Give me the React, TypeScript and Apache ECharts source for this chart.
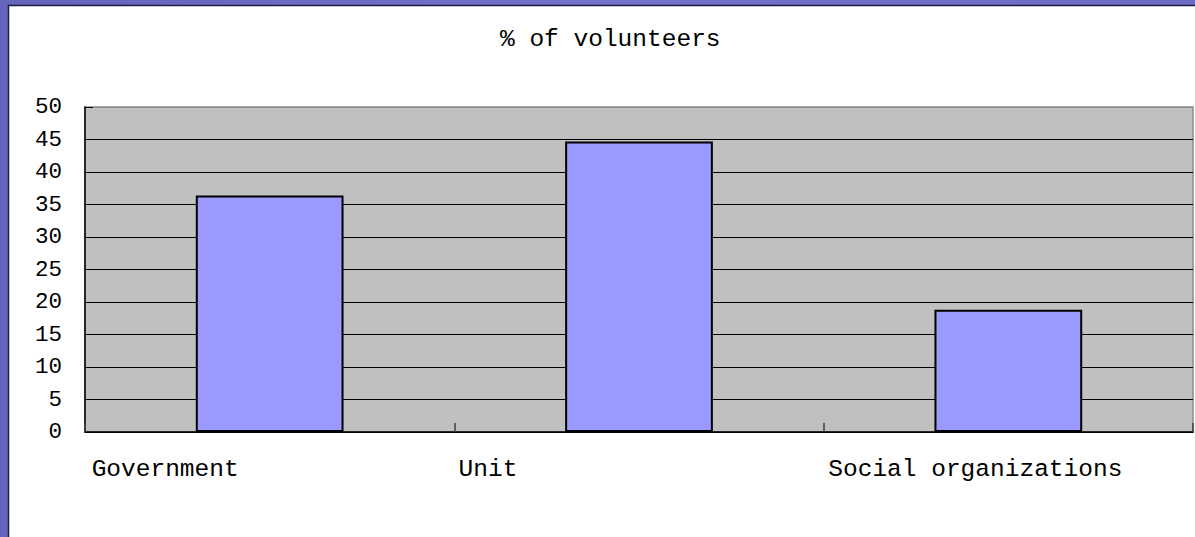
import React, { useEffect, useRef } from "react";
import * as echarts from "echarts";

const categories = ["Government", "Unit", "Social organizations"];
const values = [36.4, 44.7, 18.8];
const titleText = "% of volunteers";
const yMin = 0;
const yMax = 50;
const yInterval = 5;

// per-label horizontal shift (layout only)
const labelPadRight = [209, 302, 66];

export default function App() {
  const ref = useRef<HTMLDivElement>(null);
  useEffect(() => {
    if (!ref.current) return;
    const chart = echarts.init(ref.current, null, { renderer: "svg" });
    const font = "'Liberation Mono', 'DejaVu Sans Mono', monospace";
    const rich: Record<string, any> = {};
    categories.forEach((_, i) => {
      rich["l" + i] = {
        fontFamily: font,
        fontSize: 24.5,
        color: "#000",
        padding: [0, labelPadRight[i], 0, 0],
      };
    });
    const splitColors = [] as string[];
    for (let v = yMin; v <= yMax; v += yInterval) splitColors.push(v === yMax ? "#8a8a8a" : "#000");
    chart.setOption({
      animation: false,
      backgroundColor: "transparent",
      title: {
        text: titleText,
        left: 500,
        top: 27,
        padding: 0,
        textStyle: { fontFamily: font, fontSize: 24.5, fontWeight: "normal", color: "#000" },
      },
      graphic: [
        {
          type: "rect",
          z: -10,
          silent: true,
          shape: { x: 8.5, y: 5.5, width: 1200, height: 540 },
          style: { fill: "#ffffff", stroke: "#1c1c44", lineWidth: 1.5 },
        },
      ],
      grid: {
        left: 85,
        top: 107,
        right: 2,
        bottom: 105,
        show: true,
        backgroundColor: "#C0C0C0",
        borderColor: "#8a8a8a",
        borderWidth: 1.5,
        containLabel: false,
      },
      xAxis: {
        type: "category",
        data: categories,
        boundaryGap: true,
        axisLine: { show: true, lineStyle: { color: "#000", width: 1.5 } },
        axisTick: { show: true, inside: true, length: 9, lineStyle: { color: "#404040", width: 1.5 } },
        axisLabel: {
          interval: 0,
          hideOverlap: false,
          margin: 25,
          align: "center",
          formatter: (v: string) => {
            const i = categories.indexOf(v);
            return "{l" + i + "|" + v + "}";
          },
          rich,
        },
        splitLine: { show: false },
      },
      yAxis: {
        type: "value",
        min: yMin,
        max: yMax,
        interval: yInterval,
        axisLine: { show: true, lineStyle: { color: "#000", width: 1.5 } },
        axisTick: { show: true, inside: true, length: 8, lineStyle: { color: "#000" } },
        axisLabel: { margin: 23, fontFamily: font, fontSize: 22.5, color: "#000" },
        splitLine: { show: true, lineStyle: { color: splitColors, width: 1 } },
      },
      series: [
        {
          type: "bar",
          data: values,
          barWidth: "40%",
          itemStyle: { color: "#9999FF", borderColor: "#000", borderWidth: 2 },
        },
      ],
    });
    return () => chart.dispose();
  }, []);
  return (
    <div
      ref={ref}
      style={{
        position: "fixed",
        left: 0,
        top: 0,
        width: 1195,
        height: 537,
        background: "linear-gradient(90deg, #6464bc 0%, #7272c8 50%, #6c6cc4 100%)",
      }}
    />
  );
}
